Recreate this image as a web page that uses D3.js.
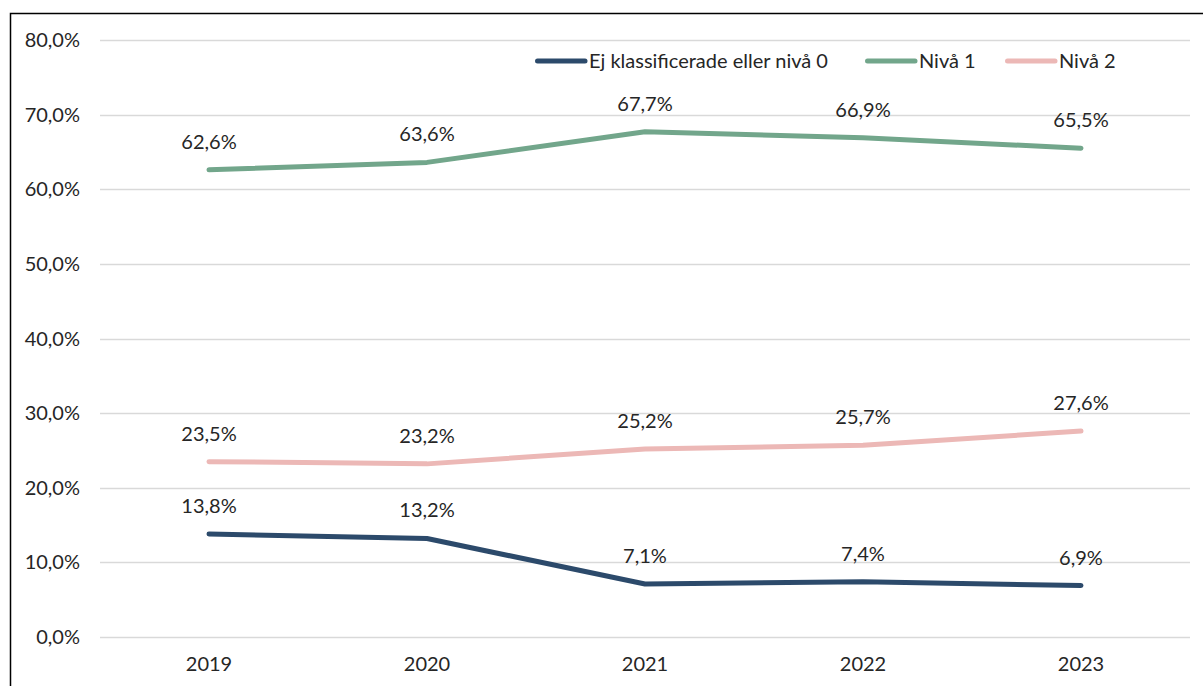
<!DOCTYPE html>
<html>
<head>
<meta charset="utf-8">
<script src="https://cdn.jsdelivr.net/npm/d3@7"></script>
<style>
  body { margin: 0; background: #fff; }
  svg text { font-family: Lato, "Open Sans", sans-serif; fill: #262626; }
</style>
</head>
<body>
<svg id="chart"></svg>
<script>
// values
var years = ["2019", "2020", "2021", "2022", "2023"];
var seriesNames = ["Ej klassificerade eller nivå 0", "Nivå 1", "Nivå 2"];
var niva0 = [13.8, 13.2, 7.1, 7.4, 6.9];
var niva1 = [62.6, 63.6, 67.7, 66.9, 65.5];
var niva2 = [23.5, 23.2, 25.2, 25.7, 27.6];
var yTicks = [0, 10, 20, 30, 40, 50, 60, 70, 80];
var colors = ["#2c4a6b", "#72a68b", "#ecb8b6"];

var W = 1203, H = 686;
var fontSize = '20px';
var svg = d3.select('svg#chart')
    .attr('width', W)
    .attr('height', H);

// frame (left + top edges only visible)
svg.append('path')
    .attr('d', 'M10.5,' + H + 'V13.5H' + W)
    .attr('fill', 'none')
    .attr('stroke', '#000')
    .attr('stroke-width', 1.5);

var margin = {left: 100, right: 13, top: 40, bottom: 49};

var x = d3.scaleBand()
    .domain(years)
    .range([margin.left, W - margin.right]);

var y = d3.scaleLinear()
    .domain([0, 80])
    .range([H - margin.bottom, margin.top]);

// gridlines
svg.append('g')
    .selectAll('line')
    .data(yTicks)
    .enter().append('line')
    .attr('x1', margin.left)
    .attr('x2', W - margin.right)
    .attr('y1', d => Math.round(y(d)) + 0.5)
    .attr('y2', d => Math.round(y(d)) + 0.5)
    .attr('stroke', '#d9d9d9')
    .attr('stroke-width', 1.5);

var fmt = d => d.toFixed(1).replace('.', ',') + '%';

// y axis labels
svg.append('g')
    .selectAll('text')
    .data(yTicks)
    .enter().append('text')
    .attr('x', 80)
    .attr('y', d => y(d))
    .attr('dy', '0.35em')
    .attr('text-anchor', 'end')
    .style('font-size', fontSize)
    .text(fmt);

// x axis labels
svg.append('g')
    .selectAll('text')
    .data(years)
    .enter().append('text')
    .attr('x', d => x(d) + x.bandwidth() / 2)
    .attr('y', H - margin.bottom + 27)
    .attr('dy', '0.35em')
    .attr('text-anchor', 'middle')
    .style('font-size', fontSize)
    .text(d => d);

var allSeries = [niva0, niva1, niva2];

var line = d3.line()
    .x((d, i) => x(years[i]) + x.bandwidth() / 2)
    .y(d => y(d));

allSeries.forEach(function(vals, s){
    svg.append('path')
        .datum(vals)
        .attr('d', line)
        .attr('fill', 'none')
        .attr('stroke', colors[s])
        .attr('stroke-width', 5)
        .attr('stroke-linecap', 'round')
        .attr('stroke-linejoin', 'round');

    svg.append('g')
        .selectAll('text')
        .data(vals)
        .enter().append('text')
        .attr('x', (d, i) => x(years[i]) + x.bandwidth() / 2)
        .attr('y', d => y(d) - 28)
        .attr('dy', '0.35em')
        .attr('text-anchor', 'middle')
        .style('font-size', fontSize)
        .text(fmt);
});

// legend
var legendX = [535, 865, 1005];
var legend = svg.append('g');
seriesNames.forEach(function(name, s){
    legend.append('line')
        .attr('x1', legendX[s] + 2.5)
        .attr('x2', legendX[s] + 50)
        .attr('y1', 61)
        .attr('y2', 61)
        .attr('stroke', colors[s])
        .attr('stroke-width', 5)
        .attr('stroke-linecap', 'round');
    legend.append('text')
        .attr('x', legendX[s] + 54)
        .attr('y', 61)
        .attr('dy', '0.35em')
        .style('font-size', fontSize)
        .text(name);
});
</script>
</body>
</html>
